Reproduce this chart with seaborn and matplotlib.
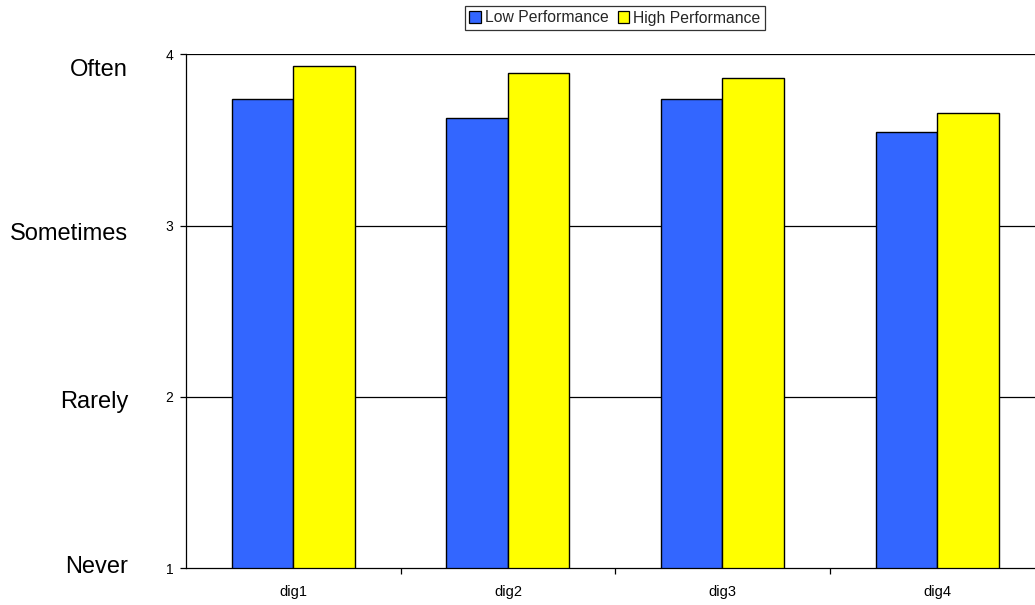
import matplotlib
matplotlib.use("Agg")
import matplotlib.pyplot as plt
import matplotlib.transforms as mtransforms
import seaborn as sns
import pandas as pd

categories = ["dig1", "dig2", "dig3", "dig4"]
low_perf = [3.74, 3.63, 3.74, 3.545]
high_perf = [3.93, 3.89, 3.86, 3.66]
series_names = ["Low Performance", "High Performance"]
colors = ["#3366FF", "#FFFF00"]
scale_labels = ["Never", "Rarely", "Sometimes", "Often"]
scale_values = [1, 2, 3, 4]
scale_label_y = [1.006, 1.97, 2.953, 3.907]

df = pd.DataFrame({
    "cat": categories * 2,
    "val": low_perf + high_perf,
    "series": [series_names[0]] * 4 + [series_names[1]] * 4,
})

sns.set_theme(style="white")
plt.rcParams["font.family"] = ["Liberation Sans", "DejaVu Sans"]

fig = plt.figure(figsize=(10.35, 6.05), dpi=100)
ax = fig.add_axes([186 / 1035, 36.7 / 605, 858.4 / 1035, 514 / 605])

sns.barplot(data=df, x="cat", y="val", hue="series", palette=colors,
            width=0.573, edgecolor="black", linewidth=1.0, ax=ax,
            legend=False, saturation=1)

ax.set_ylim(1, 4)
ax.set_xlim(-0.5, 3.5)
ax.set_yticks(scale_values)
ax.set_yticklabels([str(v) for v in scale_values], fontsize=10)
ax.set_xlabel("")
ax.set_ylabel("")
for v in scale_values[1:]:
    ax.axhline(v, color="black", lw=0.9, zorder=0)

ax.tick_params(axis="x", which="major", length=0, pad=12, labelsize=10.5, colors="black")
ax.set_xticks([0.5, 1.5, 2.5], minor=True)
ax.tick_params(axis="x", which="minor", length=4, width=0.9, color="black", direction="out", bottom=True)
ax.tick_params(axis="y", which="major", length=4, width=0.9, color="black", direction="out", left=True, pad=5, labelcolor="black")

for s in ["top", "right"]:
    ax.spines[s].set_visible(False)
for s in ["left", "bottom"]:
    ax.spines[s].set_color("black")
    ax.spines[s].set_linewidth(0.9)

trans = mtransforms.blended_transform_factory(fig.transFigure, ax.transData)
for lab, yv in zip(scale_labels, scale_label_y):
    ax.text(128 / 1035, yv, lab, transform=trans, ha="right", va="center",
            fontsize=17, color="black", clip_on=False)

from matplotlib.patches import Patch
handles = [Patch(facecolor=c, edgecolor="black", linewidth=0.9) for c in colors]
leg = fig.legend(handles, series_names, loc="center", bbox_to_anchor=(615 / 1035, 1 - 18 / 605),
                 ncol=2, frameon=True, fancybox=False, edgecolor="black", fontsize=11.3,
                 handlelength=0.75, handleheight=0.75, handletextpad=0.25, columnspacing=0.55,
                 borderpad=0.3, borderaxespad=0)
leg.get_frame().set_linewidth(0.9)

fig.savefig("out.png", dpi=100)
